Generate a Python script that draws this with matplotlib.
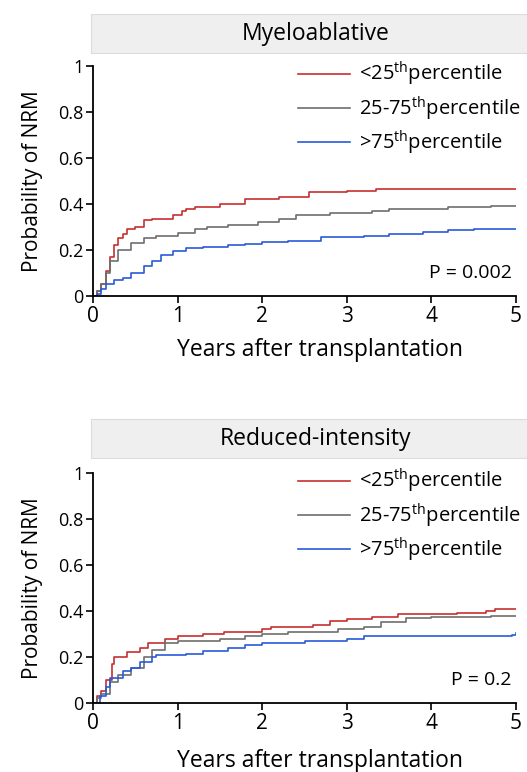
import matplotlib
matplotlib.use("Agg")
import matplotlib.pyplot as plt

plt.rcParams['font.family'] = ['Open Sans', 'DejaVu Sans']
plt.rcParams['mathtext.fontset'] = 'custom'
plt.rcParams['mathtext.rm'] = 'Open Sans'

# Myeloablative
mac_low_t = [0, 0.05, 0.1, 0.15, 0.2, 0.25, 0.3, 0.35, 0.4, 0.5, 0.6, 0.7, 0.95, 1.05, 1.1, 1.2, 1.5, 1.8, 2.2, 2.55, 3.0, 3.35, 5.0]
mac_low_v = [0, 0.02, 0.05, 0.11, 0.17, 0.22, 0.25, 0.27, 0.29, 0.30, 0.33, 0.335, 0.35, 0.37, 0.38, 0.385, 0.40, 0.42, 0.43, 0.45, 0.455, 0.465, 0.465]
mac_mid_t = [0, 0.05, 0.1, 0.15, 0.2, 0.3, 0.45, 0.6, 0.75, 1.0, 1.2, 1.35, 1.6, 1.95, 2.2, 2.4, 2.8, 3.3, 3.5, 4.2, 4.7, 5.0]
mac_mid_v = [0, 0.02, 0.05, 0.10, 0.15, 0.20, 0.23, 0.25, 0.26, 0.275, 0.29, 0.30, 0.31, 0.32, 0.335, 0.35, 0.36, 0.37, 0.38, 0.385, 0.39, 0.39]
mac_high_t = [0, 0.05, 0.1, 0.15, 0.25, 0.35, 0.45, 0.6, 0.7, 0.8, 0.95, 1.1, 1.3, 1.6, 1.8, 2.0, 2.3, 2.7, 3.2, 3.5, 3.9, 4.2, 4.5, 5.0]
mac_high_v = [0, 0.01, 0.03, 0.05, 0.07, 0.08, 0.10, 0.13, 0.15, 0.18, 0.195, 0.21, 0.215, 0.22, 0.225, 0.235, 0.24, 0.255, 0.26, 0.27, 0.28, 0.285, 0.29, 0.29]

# Reduced-intensity
ric_low_t = [0, 0.05, 0.1, 0.15, 0.22, 0.25, 0.4, 0.55, 0.65, 0.85, 1.0, 1.3, 1.55, 2.0, 2.1, 2.6, 2.8, 3.0, 3.3, 3.6, 4.3, 4.65, 4.75, 5.0]
ric_low_v = [0, 0.03, 0.05, 0.10, 0.17, 0.20, 0.22, 0.24, 0.26, 0.28, 0.29, 0.30, 0.31, 0.32, 0.33, 0.34, 0.355, 0.365, 0.375, 0.385, 0.39, 0.40, 0.41, 0.41]
ric_mid_t = [0, 0.05, 0.1, 0.2, 0.3, 0.45, 0.6, 0.7, 0.85, 1.0, 1.5, 1.8, 2.0, 2.3, 2.9, 3.2, 3.4, 3.7, 4.0, 4.7, 5.0]
ric_mid_v = [0, 0.02, 0.04, 0.09, 0.12, 0.15, 0.20, 0.23, 0.26, 0.27, 0.28, 0.29, 0.30, 0.31, 0.32, 0.33, 0.35, 0.37, 0.375, 0.38, 0.38]
ric_high_t = [0, 0.08, 0.15, 0.2, 0.35, 0.45, 0.55, 0.7, 0.75, 1.1, 1.3, 1.6, 1.8, 2.0, 2.5, 3.0, 3.2, 4.95, 5.0]
ric_high_v = [0, 0.03, 0.07, 0.11, 0.14, 0.15, 0.18, 0.20, 0.21, 0.215, 0.225, 0.24, 0.25, 0.26, 0.27, 0.28, 0.29, 0.295, 0.305]

labels = ['<25$^{\\mathrm{th}}$percentile', '25-75$^{\\mathrm{th}}$percentile', '>75$^{\\mathrm{th}}$percentile']
colors = ['#c62f2f', '#6e6e6e', '#2a5ad8']

panels = [
    ('Myeloablative', 'P = 0.002', [(mac_low_t, mac_low_v), (mac_mid_t, mac_mid_v), (mac_high_t, mac_high_v)], 0.6166, 0.9313, -0.183),
    ('Reduced-intensity', 'P = 0.2', [(ric_low_t, ric_low_v), (ric_mid_t, ric_mid_v), (ric_high_t, ric_high_v)], 0.0894, 0.4067, -0.2),
]

fig = plt.figure(figsize=(5.27, 7.72), dpi=100)

for title, ptext, curves, bottom, hdr, xlab_y in panels:
    ax = fig.add_axes([0.1765, bottom, 0.8027, 0.2979])
    for (t, v), c, lab in zip(curves, colors, labels):
        ax.step(t, v, where='post', color=c, lw=1.2, label=lab)
    ax.set_xlim(0, 5)
    ax.set_ylim(0, 1)
    ax.set_xticks([0, 1, 2, 3, 4, 5])
    ax.set_yticks([0, 0.2, 0.4, 0.6, 0.8, 1])
    ax.set_yticklabels(['0', '0.2', '0.4', '0.6', '0.8', '1'])
    for s in ['top', 'right']:
        ax.spines[s].set_visible(False)
    ax.spines['left'].set_linewidth(1.3)
    ax.spines['bottom'].set_linewidth(1.3)
    ax.tick_params(direction='out', length=5, width=1.2, labelsize=13, pad=2)
    ax.tick_params(axis='x', labelsize=15, pad=2)
    ax.set_ylabel('Probability of NRM', fontsize=15, labelpad=11)
    ax.set_xlabel('Years after transplantation', fontsize=16.5)
    ax.xaxis.set_label_coords((320 - 93) / 423, xlab_y)
    ax.text(0.99, 0.10, ptext, transform=ax.transAxes, ha='right', va='center', fontsize=14)
    ax.legend(loc='upper left', bbox_to_anchor=(0.465, 1.06), frameon=False, fontsize=14.5,
              handlelength=2.6, handletextpad=0.45, labelspacing=0.3, borderaxespad=0)

    hax = fig.add_axes([0.1727, hdr, 0.83, 0.0505])
    hax.set_facecolor('#efefef')
    hax.set_xticks([])
    hax.set_yticks([])
    for s in hax.spines.values():
        s.set_color('#dcdcdc')
    hax.text((316 / 527 - 0.1727) / 0.83, 0.5, title, transform=hax.transAxes,
             ha='center', va='center', fontsize=16.5)

fig.savefig('out.png', dpi=100)
